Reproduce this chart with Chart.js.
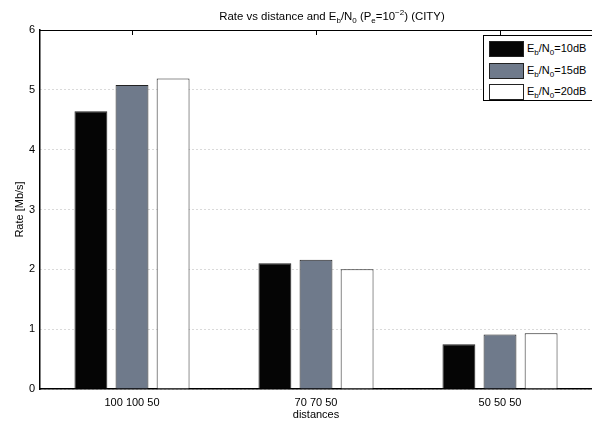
<!DOCTYPE html>
<html>
<head>
<meta charset="utf-8">
<script src="https://cdn.jsdelivr.net/npm/chart.js@4.4.0/dist/chart.umd.min.js"></script>
<style>
  html, body { margin: 0; padding: 0; background: #fff; }
  #wrap { position: relative; width: 592px; height: 422px; overflow: hidden;
          font-family: "Liberation Sans", Arial, sans-serif; color: #000; }
  #title { position: absolute; left: 332px; top: 10px; transform: translateX(-50%);
           font-size: 11.4px; line-height: 13px; white-space: nowrap; }
  sub, sup { font-size: 8px; line-height: 0; }
  sub { vertical-align: -3px; }
  sup { vertical-align: 5px; }
  #legend { position: absolute; left: 483px; top: 35px; width: 110px; height: 66px;
            border: 1px solid #000; background: #fff; box-sizing: border-box; }
  .row { position: absolute; left: 5px; height: 16px; }
  .sw { position: absolute; left: 0; top: 0; width: 35px; height: 16px;
        box-sizing: border-box; border: 1px solid #222; }
  .lab { position: absolute; left: 38px; top: 1px; font-size: 11px; line-height: 13px; white-space: nowrap; }
</style>
</head>
<body>
<div id="wrap">
  <canvas id="rateChart" width="592" height="422"></canvas>
  <div id="title">Rate vs distance and E<sub>b</sub>/N<sub>0</sub> (P<sub>e</sub>=10<sup>&minus;2</sup>) (CITY)</div>
  <div id="legend"></div>
</div>
<script>
// cac khoang cach (nhan truc x)
const distances = ["100 100 50", "70 70 50", "50 50 50"];
// Eb/N0 cua tung chuoi
const ebn0 = ["10dB", "15dB", "20dB"];
// toc do [Mb/s]
const rate10 = [4.64, 2.10, 0.75];
const rate15 = [5.08, 2.16, 0.91];
const rate20 = [5.19, 2.00, 0.93];
const yMin = 0;
const yMax = 6;
const yStep = 1;

const colors = ["#050505", "#6f7a8b", "#ffffff"];
const font = { family: "'Liberation Sans', Arial, sans-serif", size: 11 };

// khung tren + vach chia ben trong
const framePlugin = {
    id: "frame",
    afterDraw(chart) {
        const { ctx, chartArea: a, scales } = chart;
        ctx.save();
        ctx.strokeStyle = "#000";
        ctx.lineWidth = 1;
        ctx.beginPath();
        ctx.moveTo(a.left, a.top + 0.5);
        ctx.lineTo(a.right, a.top + 0.5);
        distances.forEach((d, i) => {
            const x = Math.round(scales.x.getPixelForValue(i)) + 0.5;
            ctx.moveTo(x, a.top);
            ctx.lineTo(x, a.top + 5);
        });
        ctx.stroke();
        ctx.restore();
    },
};

const series = [rate10, rate15, rate20];

const chart = new Chart(document.getElementById("rateChart").getContext("2d"), {
    type: "bar",
    data: {
        labels: distances,
        datasets: series.map((s, i) => ({
            label: "Eb/N0=" + ebn0[i],
            data: s,
            backgroundColor: colors[i],
            borderColor: "#222",
            borderWidth: 1,
            categoryPercentage: 0.67,
            barPercentage: 0.8,
        })),
    },
    options: {
        responsive: false,
        animation: false,
        layout: { padding: { top: 30, left: 0, right: 0, bottom: 0 } },
        plugins: {
            legend: { display: false },
            title: { display: false },
            tooltip: { enabled: false },
        },
        scales: {
            x: {
                grid: { display: false, drawTicks: false },
                border: { color: "#000", width: 1.5 },
                ticks: { color: "#000", font: font, padding: 7 },
                title: { display: true, text: "distances", color: "#000", font: font, padding: { top: 0, bottom: 0 } },
                afterFit(s) { s.height = 33; },
            },
            y: {
                min: yMin,
                max: yMax,
                ticks: { stepSize: yStep, color: "#000", font: font, padding: 5 },
                grid: { color: "#b4b4b4", lineWidth: 1, drawTicks: false },
                border: { color: "#000", width: 1.5, dash: [1, 3] },
                title: { display: true, text: "Rate [Mb/s]", color: "#000", font: font, padding: { top: 13, bottom: 0 } },
                afterFit(s) { s.width = 40; },
            },
        },
    },
    plugins: [framePlugin],
});

// chu giai co chi so duoi
const legend = document.getElementById("legend");
ebn0.forEach((e, i) => {
    const row = document.createElement("div");
    row.className = "row";
    row.style.top = (5 + i * 21.5) + "px";
    row.innerHTML = '<div class="sw" style="background:' + colors[i] + '"></div>' +
        '<div class="lab">E<sub>b</sub>/N<sub>0</sub>=' + e + "</div>";
    legend.appendChild(row);
});
</script>
</body>
</html>
